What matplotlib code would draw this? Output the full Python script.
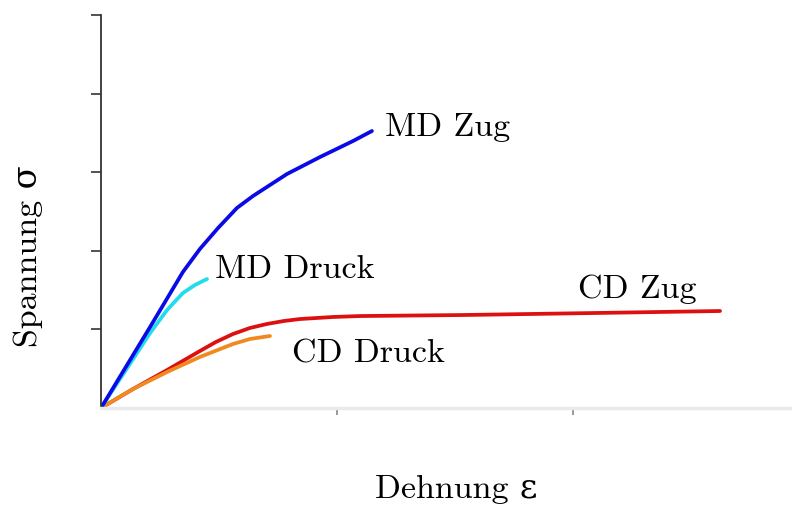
import matplotlib
matplotlib.use("Agg")
import matplotlib.pyplot as plt

plt.rcParams["font.family"] = ["cmr10", "DejaVu Serif"]
plt.rcParams["mathtext.fontset"] = "cm"
plt.rcParams["axes.unicode_minus"] = False

# strain / stress readings (arbitrary units)
md_zug_x = [0, 0.208, 0.347, 0.419, 0.496, 0.576, 0.644, 0.788, 0.928,
            1.068, 1.148]
md_zug_y = [0, 1.031, 1.730, 2.023, 2.290, 2.545, 2.697, 2.977, 3.193,
            3.397, 3.524]

md_druck_x = [0, 0.136, 0.208, 0.280, 0.347, 0.398, 0.449]
md_druck_y = [0, 0.623, 0.954, 1.247, 1.463, 1.565, 1.641]

cd_zug_x = [0, 0.136, 0.280, 0.419, 0.487, 0.559, 0.631, 0.703, 0.775,
            0.843, 0.983, 1.097, 1.534, 2.102, 2.623]
cd_zug_y = [0, 0.242, 0.483, 0.725, 0.840, 0.941, 1.018, 1.069, 1.107,
            1.132, 1.158, 1.170, 1.183, 1.209, 1.234]

cd_druck_x = [0, 0.136, 0.280, 0.419, 0.559, 0.631, 0.716]
cd_druck_y = [0, 0.242, 0.458, 0.649, 0.814, 0.878, 0.916]

x_ticks = [1, 2]
y_ticks = [1, 2, 3, 4, 5]

fig = plt.figure(figsize=(7.97, 5.09), dpi=100)
ax = fig.add_axes([101 / 797, 101 / 509, 689 / 797, 393 / 509])

style = dict(lw=2.7, solid_capstyle="round", solid_joinstyle="round")
ax.plot(cd_zug_x, cd_zug_y, color="#dd1010", **style)
ax.plot(cd_druck_x, cd_druck_y, color="#f08a20", **style)
ax.plot(md_druck_x, md_druck_y, color="#22dcee", **style)
ax.plot(md_zug_x, md_zug_y, color="#0a0ae6", **style)

fs = 24.5
ax.text(1.203, 3.46, "MD Zug", fontsize=fs, va="baseline")
ax.text(0.483, 1.654, "MD Druck", fontsize=fs, va="baseline")
ax.text(2.021, 1.40, "CD Zug", fontsize=fs, va="baseline")
ax.text(0.809, 0.585, "CD Druck", fontsize=fs, va="baseline")

ax.set_xlim(0, 689 / 236)
ax.set_ylim(0, 5)
ax.set_xticks(x_ticks)
ax.set_yticks(y_ticks)
ax.set_xticklabels([])
ax.set_yticklabels([])
ax.tick_params(axis="y", direction="out", length=7, width=1.3, color="#444444")
ax.tick_params(axis="x", direction="out", length=5, width=1.2, color="#888888")

for side in ("top", "right"):
    ax.spines[side].set_visible(False)
ax.spines["left"].set_color("#333333")
ax.spines["left"].set_linewidth(1.3)
ax.spines["bottom"].set_color("#eaeaea")
ax.spines["bottom"].set_linewidth(2.5)

fig.text(375 / 797, 11 / 509, "Dehnung ε", fontsize=fs,
         ha="left", va="baseline")
fig.text(28 / 797, 253 / 509, "Spannung σ", fontsize=fs,
         rotation=90, ha="center", va="center")

fig.savefig("out.png", dpi=100)
